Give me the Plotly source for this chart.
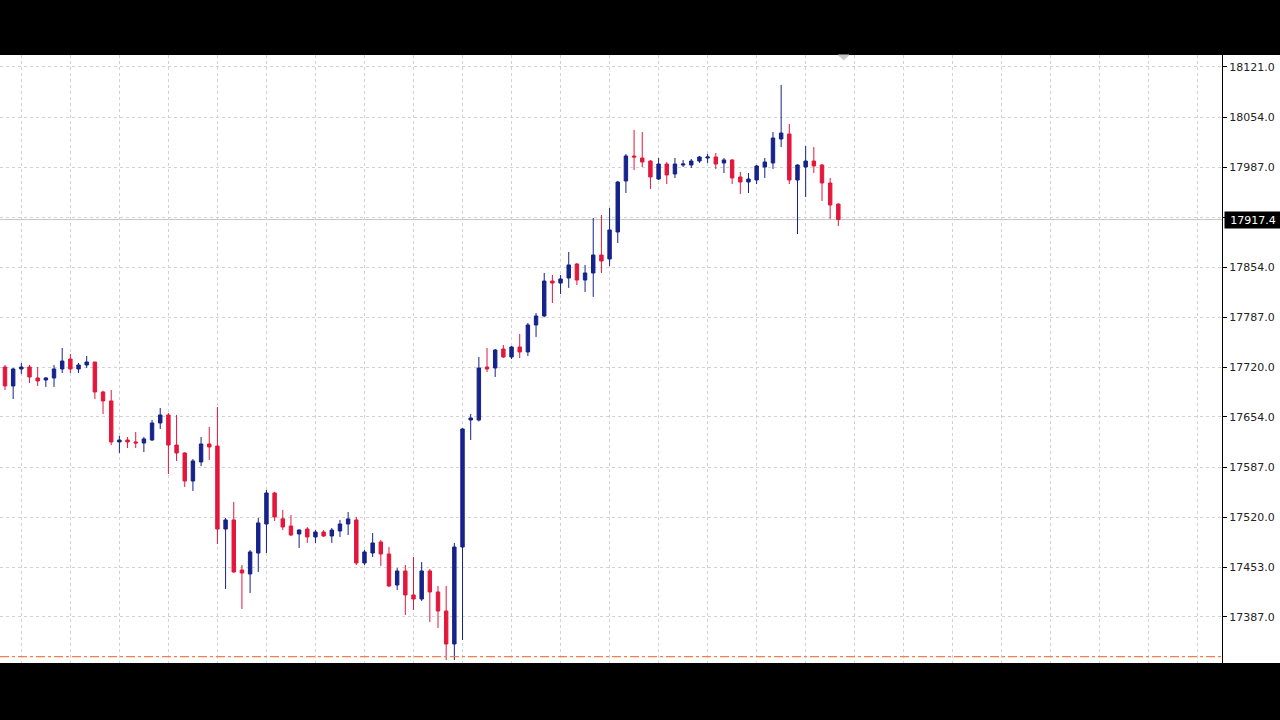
import plotly.graph_objects as go

opens = [17720.6, 17695.3, 17718.0, 17720.6, 17706.0, 17703.3, 17706.0, 17718.0, 17731.3, 17718.0,
         17723.3, 17727.3, 17687.3, 17675.3, 17620.6, 17623.2, 17620.6, 17619.2, 17623.2, 17645.9,
         17656.6, 17616.5, 17605.9, 17568.5, 17593.9, 17617.9, 17615.2, 17504.4, 17516.5, 17449.7,
         17444.4, 17472.4, 17511.1, 17552.5, 17518.0, 17508.4, 17497.8, 17504.4, 17493.8, 17500.4,
         17495.1, 17501.8, 17511.1, 17516.5, 17459.1, 17472.4, 17487.1, 17471.1, 17429.7, 17448.4,
         17416.4, 17411.0, 17448.4, 17420.4, 17395.0, 17351.0, 17480.4, 17649.9, 17649.9, 17720.6,
         17719.3, 17744.6, 17734.0, 17747.3, 17740.7, 17776.7, 17788.7, 17835.4, 17832.7, 17839.4,
         17858.1, 17836.7, 17846.1, 17870.1, 17864.8, 17900.8, 17968.9, 18002.2, 17999.5, 17995.5,
         17971.5, 17991.5, 17978.2, 17990.2, 17990.2, 17995.5, 17999.5, 18000.9, 17992.9, 17996.9,
         17974.2, 17967.5, 17970.2, 17987.5, 17992.9, 18024.9, 18031.6, 17970.2, 17987.5, 17995.5,
         17990.2, 17966.2, 17938.1]
highs = [17723.3, 17719.3, 17726.0, 17723.3, 17720.6, 17707.3, 17723.3, 17746.0, 17738.0, 17726.0,
         17735.3, 17727.3, 17689.0, 17689.9, 17628.6, 17627.2, 17633.9, 17627.2, 17649.9, 17665.9,
         17659.3, 17656.6, 17607.0, 17597.9, 17627.2, 17640.6, 17667.3, 17519.2, 17540.5, 17456.4,
         17476.4, 17519.2, 17556.5, 17554.0, 17529.8, 17523.1, 17504.0, 17507.1, 17503.1, 17503.1,
         17505.8, 17516.5, 17527.1, 17520.5, 17476.4, 17499.1, 17489.8, 17480.4, 17452.4, 17456.4,
         17467.1, 17460.4, 17451.1, 17428.4, 17428.4, 17485.8, 17639.0, 17657.9, 17734.0, 17746.0,
         17744.6, 17750.0, 17748.6, 17764.7, 17779.4, 17792.7, 17846.1, 17843.4, 17843.4, 17874.1,
         17859.4, 17856.8, 17919.5, 17923.5, 17932.8, 17969.0, 18004.9, 18036.9, 18034.2, 17996.9,
         17999.5, 17994.2, 17999.5, 17996.9, 17998.2, 18002.2, 18004.9, 18006.2, 17999.5, 17998.0,
         17980.9, 17979.5, 17990.2, 17999.5, 18034.2, 18097.0, 18044.9, 17991.0, 18015.6, 18014.2,
         17991.5, 17972.9, 17939.0]
lows = [17689.9, 17677.9, 17711.3, 17699.3, 17695.3, 17694.0, 17694.0, 17712.6, 17712.6, 17712.6,
        17719.3, 17677.9, 17657.9, 17616.5, 17605.9, 17612.5, 17612.5, 17607.2, 17622.0, 17637.9,
        17577.8, 17595.2, 17560.5, 17555.2, 17588.5, 17596.6, 17484.4, 17424.4, 17445.7, 17397.7,
        17419.0, 17447.1, 17472.4, 17515.1, 17503.1, 17495.1, 17479.1, 17485.8, 17485.8, 17493.8,
        17485.8, 17493.8, 17496.4, 17456.4, 17456.4, 17467.1, 17455.1, 17427.1, 17423.0, 17389.7,
        17396.4, 17408.4, 17380.3, 17372.3, 17329.6, 17329.6, 17356.3, 17623.2, 17648.0, 17714.0,
        17707.3, 17732.6, 17731.3, 17732.6, 17735.3, 17760.7, 17787.0, 17806.0, 17818.1, 17826.1,
        17830.1, 17820.7, 17814.1, 17846.1, 17855.4, 17886.1, 17952.8, 17983.5, 17987.5, 17958.2,
        17970.2, 17964.8, 17972.9, 17987.5, 17986.2, 17992.9, 17992.9, 17984.9, 17979.5, 17964.8,
        17951.5, 17952.8, 17964.8, 17972.9, 17984.9, 18014.2, 17964.8, 17898.1, 17947.5, 17979.5,
        17942.2, 17918.2, 17908.8]
closes = [17695.3, 17718.0, 17720.6, 17707.3, 17702.0, 17706.0, 17718.0, 17728.6, 17718.0, 17723.3,
          17727.3, 17687.3, 17675.3, 17620.6, 17623.2, 17620.6, 17619.2, 17624.6, 17645.9, 17656.6,
          17616.5, 17605.9, 17568.5, 17595.2, 17617.9, 17613.9, 17504.4, 17516.5, 17447.1, 17445.7,
          17473.8, 17512.5, 17552.5, 17520.5, 17507.1, 17496.4, 17503.1, 17493.8, 17500.4, 17495.1,
          17503.1, 17511.1, 17517.8, 17459.1, 17473.8, 17485.8, 17471.1, 17428.4, 17448.4, 17416.4,
          17411.0, 17448.4, 17420.4, 17395.0, 17351.0, 17480.4, 17637.9, 17652.6, 17719.3, 17718.0,
          17743.3, 17734.0, 17747.3, 17740.7, 17776.7, 17788.7, 17835.4, 17832.7, 17838.1, 17856.8,
          17836.7, 17846.1, 17870.1, 17862.1, 17903.5, 17967.5, 18002.2, 18000.9, 17994.2, 17974.2,
          17991.5, 17976.9, 17991.5, 17991.5, 17995.5, 18000.9, 18000.9, 17991.5, 17996.9, 17972.9,
          17967.5, 17971.5, 17988.9, 17994.2, 18026.2, 18032.9, 17970.2, 17990.2, 17995.5, 17988.9,
          17966.2, 17936.8, 17917.4]

tick_vals = [18121.0, 18054.0, 17987.0, 17920.6, 17854.0, 17787.0, 17720.0, 17654.0, 17587.0, 17520.0, 17453.0, 17387.0]
tick_text = ["18121.0", "18054.0", "17987.0", "", "17854.0", "17787.0", "17720.0", "17654.0", "17587.0", "17520.0", "17453.0", "17387.0"]
grid_x = list(range(2, 150, 6))

current_price = 17917.4
level_line = 17334.0
y_range = [17325.6, 18137.0]
x_range = [-0.612, 148.96]

UP = "#15238a"
DOWN = "#e3173c"

bars = list(range(len(opens)))

fig = go.Figure()
fig.add_trace(go.Candlestick(
    x=bars, open=opens, high=highs, low=lows, close=closes,
    increasing=dict(line=dict(color=UP, width=1), fillcolor=UP),
    decreasing=dict(line=dict(color=DOWN, width=1), fillcolor=DOWN),
    whiskerwidth=0, showlegend=False, hoverinfo="skip",
))

W, H = 1280, 720
ml, mr, mt, mb = 0, 58, 55, 57
pw = W - ml - mr
ph = H - mt - mb

shapes = [
    # black bands
    dict(type="rect", xref="paper", yref="paper", x0=-0.01, x1=1 + mr / pw + 0.01,
         y0=1, y1=1 + mt / ph + 0.01, fillcolor="black", line_width=0, layer="below"),
    dict(type="rect", xref="paper", yref="paper", x0=-0.01, x1=1 + mr / pw + 0.01,
         y0=-mb / ph - 0.01, y1=0, fillcolor="black", line_width=0, layer="below"),
    # current price line
    dict(type="line", xref="paper", yref="y", x0=0, x1=1, y0=current_price, y1=current_price,
         line=dict(color="#c4c4c4", width=1), layer="below"),
    # orange level
    dict(type="line", xref="paper", yref="y", x0=0, x1=1, y0=level_line, y1=level_line,
         line=dict(color="#f08050", width=1.2, dash="dashdot"), layer="above"),
    # shift marker
    dict(type="path", xref="x", yref="paper",
         path="M 102.0 1.0 L 103.3 1.0 L 102.65 0.992 Z",
         fillcolor="#c8c8c8", line=dict(color="#c8c8c8", width=1)),
]

fig.update_layout(
    width=W, height=H,
    margin=dict(l=ml, r=mr, t=mt, b=mb, pad=0),
    paper_bgcolor="white", plot_bgcolor="white",
    boxgap=0.4,
    shapes=shapes,
    xaxis=dict(range=x_range, rangeslider=dict(visible=False), showticklabels=False,
               tickvals=grid_x, ticks="", showgrid=True, gridcolor="#d2d2d2", griddash="3px,3px",
               gridwidth=1, zeroline=False, showline=False, fixedrange=True),
    yaxis=dict(range=y_range, side="right", tickvals=tick_vals, ticktext=tick_text,
               ticks="outside", ticklen=4, tickcolor="black", showgrid=True, gridcolor="#d2d2d2",
               griddash="3px,3px", gridwidth=1, zeroline=False, showline=True, linecolor="black",
               linewidth=1, tickfont=dict(family="DejaVu Sans", size=11, color="#222222"),
               fixedrange=True),
    annotations=[dict(xref="paper", yref="y", x=1, y=current_price, xanchor="left", yanchor="middle",
                      xshift=2, text="17917.4", showarrow=False, bgcolor="black", width=54, height=14,
                      align="center",
                      font=dict(family="DejaVu Sans", size=11, color="white"), borderpad=1)],
)

fig.write_html("out.html", config={"displayModeBar": False},
               post_script="document.body.style.margin='0';document.body.style.padding='0';"
                           "document.body.style.overflow='hidden';")
